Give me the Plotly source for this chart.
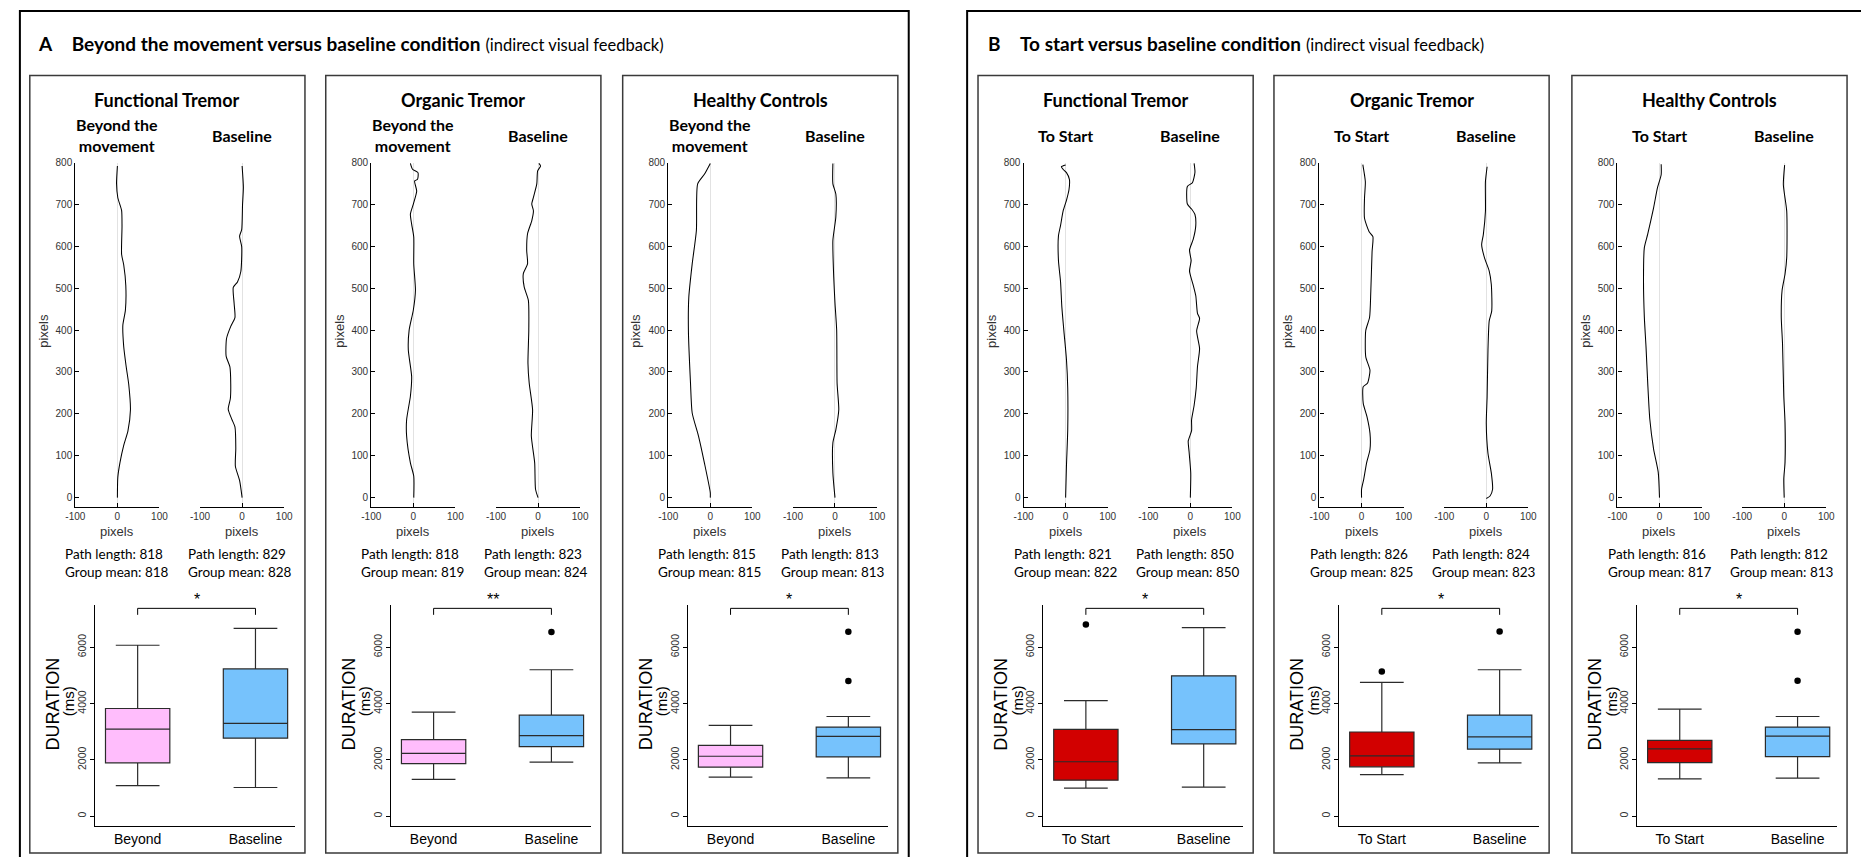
import plotly.graph_objects as go

# ---------------- data ----------------
# Trajectories (x = lateral deviation in pixels, y = vertical position in pixels)
A_FT_BEYOND_X = [0, -2, 1, 10, 11, 10, 15, 20, 19, 13, 15, 21, 27, 31, 25, 15, 6, 1, 0]
A_FT_BEYOND_Y = [792, 750, 716, 686, 648, 581, 556, 506, 447, 412, 361, 312, 270, 209, 159, 125, 83, 49, 0]
A_FT_BASE_X = [0, 3, 1, -1, -6, -1, -3, -11, -21, -19, -17, -27, -37, -38, -29, -27, -28, -33, -24, -17, -15, -16, -6, 0]
A_FT_BASE_Y = [792, 741, 699, 640, 624, 599, 540, 515, 502, 464, 430, 409, 380, 338, 312, 270, 236, 211, 186, 169, 118, 75, 41, 0]

A_OT_BEYOND_X = [-7, -2, 11, 10, 3, 8, 0, -7, -4, 1, 1, 5, 0, -10, -12, -4, -7, -16, -16, -7, 1, 1]
A_OT_BEYOND_Y = [798, 784, 776, 760, 756, 732, 701, 677, 653, 622, 558, 495, 448, 400, 353, 289, 242, 186, 147, 83, 51, 0]
A_OT_BASE_X = [2, 6, -1, -3, -11, -15, -11, -15, -25, -27, -25, -35, -33, -23, -22, -24, -21, -13, -16, -8, -6, 0]
A_OT_BASE_Y = [798, 792, 780, 749, 717, 701, 685, 661, 630, 590, 558, 535, 503, 471, 400, 321, 273, 210, 147, 83, 20, 0]

A_HC_BEYOND_X = [0, -14, -30, -33, -43, -51, -52, -47, -43, -28, -14, 0, 0]
A_HC_BEYOND_Y = [798, 772, 749, 638, 558, 479, 400, 273, 202, 147, 83, 12, 0]
A_HC_BASE_X = [-5, -5, 2, 2, -5, -3, 0, 4, 5, 9, 2, -5, -5, 0]
A_HC_BASE_Y = [798, 749, 725, 670, 614, 527, 464, 400, 273, 210, 162, 131, 59, 0]

B_FT_START_X = [0, -10, -6, 2, 9, 8, 2, -6, -12, -17, -17, -12, -9, -4, 2, 5, 5, 2, 0]
B_FT_START_Y = [794, 790, 784, 776, 760, 735, 710, 684, 650, 625, 566, 515, 456, 397, 330, 262, 160, 76, 0]
B_FT_BASE_X = [9, 11, 5, -7, -7, 3, 11, 13, 7, -2, 2, -2, 7, 13, 17, 22, 15, 22, 17, 14, 9, 3, 3, -5, -3, 1, 0]
B_FT_BASE_Y = [798, 777, 752, 743, 701, 689, 676, 650, 617, 591, 566, 541, 507, 482, 440, 428, 398, 356, 313, 262, 220, 186, 160, 135, 110, 59, 0]

B_OT_START_X = [3, 9, 7, 7, 18, 27, 25, 22, 19, 10, 10, 20, 14, 4, 4, 13, 20, 20, 12, 5, 0, 0]
B_OT_START_Y = [795, 754, 715, 667, 635, 623, 587, 493, 430, 399, 336, 304, 273, 265, 225, 193, 154, 115, 83, 43, 20, 0]
B_OT_BASE_X = [2, -2, -2, -7, -11, -4, 7, 12, 13, 7, 4, 2, 0, 4, 12, 15, 9, 0]
B_OT_BASE_Y = [790, 754, 683, 628, 604, 572, 541, 509, 446, 422, 351, 240, 177, 106, 59, 20, 4, -2]

B_HC_START_X = [4, 4, -5, -14, -28, -36, -38, -36, -32, -28, -23, -14, -3, 0]
B_HC_START_Y = [796, 771, 739, 692, 629, 597, 518, 431, 360, 274, 187, 116, 61, 0]
B_HC_BASE_X = [1, -2, 6, 6, 2, -5, -7, -4, -1, 2, 2, -1, 0]
B_HC_BASE_Y = [794, 747, 684, 573, 534, 495, 431, 368, 242, 179, 84, 45, 0]

# Path length / group mean labels
A_FT_PATHS = [(818, 818), (829, 828)]
A_OT_PATHS = [(818, 819), (823, 824)]
A_HC_PATHS = [(815, 815), (813, 813)]
B_FT_PATHS = [(821, 822), (850, 850)]
B_OT_PATHS = [(826, 825), (824, 823)]
B_HC_PATHS = [(816, 817), (812, 813)]

# Box statistics [lower whisker, Q1, median, Q3, upper whisker] (ms)
A_FT_BOX_BEYOND = [1090, 1895, 3090, 3825, 6070]
A_FT_BOX_BASE = [1020, 2770, 3300, 5230, 6670]
A_OT_BOX_BEYOND = [1306, 1870, 2235, 2718, 3694]
A_OT_BOX_BASE = [1918, 2470, 2859, 3588, 5200]
A_HC_BOX_BEYOND = [1388, 1741, 2129, 2518, 3224]
A_HC_BOX_BASE = [1365, 2106, 2835, 3165, 3541]
B_FT_BOX_START = [997, 1279, 1935, 3085, 4106]
B_FT_BOX_BASE = [1032, 2569, 3073, 4985, 6698]
B_OT_BOX_START = [1475, 1755, 2140, 2990, 4750]
B_OT_BOX_BASE = [1895, 2380, 2815, 3590, 5200]
B_HC_BOX_START = [1329, 1906, 2388, 2694, 3800]
B_HC_BOX_BASE = [1353, 2118, 2847, 3165, 3541]

# Outliers (ms)
A_FT_OUT_BEYOND, A_FT_OUT_BASE = [], []
A_OT_OUT_BEYOND, A_OT_OUT_BASE = [], [6541]
A_HC_OUT_BEYOND, A_HC_OUT_BASE = [], [6553, 4800]
B_FT_OUT_START, B_FT_OUT_BASE = [6804], []
B_OT_OUT_START, B_OT_OUT_BASE = [5140], [6560]
B_HC_OUT_START, B_HC_OUT_BASE = [], [6553, 4812]

SIG_A = ["*", "**", "*"]
SIG_B = ["*", "*", "*"]

TRAJ_TICKS = [0, 100, 200, 300, 400, 500, 600, 700, 800]
X_TICKS = [-100, 0, 100]
DUR_TICKS = [0, 2000, 4000, 6000]
BRACKET = [7150, 7380]

# ---------------- styling ----------------
W, H = 1861, 857
TXT = "Lato"
AX = "Liberation Sans"
PINK = "#FFBDFC"
BLUE = "#76C2FC"
RED = "#D20000"


def PX(x):
    return x / W


def PY(y):
    return 1 - y / H


fig = go.Figure()
axes = {}
shapes = []
annotations = []
count = [0]


def new_axes(xd, yd, xo, yo):
    count[0] += 1
    n = count[0]
    xa = "xaxis" if n == 1 else f"xaxis{n}"
    ya = "yaxis" if n == 1 else f"yaxis{n}"
    xr = "x" if n == 1 else f"x{n}"
    yr = "y" if n == 1 else f"y{n}"
    axes[xa] = dict(domain=xd, anchor=yr, **xo)
    axes[ya] = dict(domain=yd, anchor=xr, **yo)
    return xr, yr


def ann(text, x, y, size, family=TXT, color="black", xanchor="center",
        yanchor="middle", angle=0, align="center", xref="paper", yref="paper"):
    annotations.append(dict(text=text, x=x, y=y, xref=xref, yref=yref,
                            showarrow=False, xanchor=xanchor, yanchor=yanchor,
                            textangle=angle, align=align,
                            font=dict(family=family, size=size, color=color)))


def rect(x0, y0, x1, y1, color, width):
    shapes.append(dict(type="rect", xref="paper", yref="paper",
                       x0=PX(x0), x1=PX(x1), y0=PY(y1), y1=PY(y0),
                       line=dict(color=color, width=width), fillcolor="rgba(0,0,0,0)"))


# outer frames
rect(10, 6, 908, 875, "black", 2)
rect(967, 6, 1875, 875, "black", 2)

NB = "&nbsp;" * 4
ann("<b>A</b>" + NB + "<b>Beyond the movement versus baseline condition</b> "
    "<span style='font-size:16.5px'>(indirect visual feedback)</span>",
    PX(26), PY(39), 19, xanchor="left")
ann("<b>B</b>" + NB + "<b>To start versus baseline condition</b> "
    "<span style='font-size:16.5px'>(indirect visual feedback)</span>",
    PX(986), PY(39), 19, xanchor="left")

panels = [
    dict(PL=20, group="Functional Tremor", conds=("Beyond the<br>movement", "Baseline"),
         cats=["Beyond", "Baseline"], colors=(PINK, BLUE), sig=SIG_A[0], paths=A_FT_PATHS,
         traj=[(A_FT_BEYOND_X, A_FT_BEYOND_Y), (A_FT_BASE_X, A_FT_BASE_Y)],
         boxes=[A_FT_BOX_BEYOND, A_FT_BOX_BASE], outs=[A_FT_OUT_BEYOND, A_FT_OUT_BASE]),
    dict(PL=319, group="Organic Tremor", conds=("Beyond the<br>movement", "Baseline"),
         cats=["Beyond", "Baseline"], colors=(PINK, BLUE), sig=SIG_A[1], paths=A_OT_PATHS,
         traj=[(A_OT_BEYOND_X, A_OT_BEYOND_Y), (A_OT_BASE_X, A_OT_BASE_Y)],
         boxes=[A_OT_BOX_BEYOND, A_OT_BOX_BASE], outs=[A_OT_OUT_BEYOND, A_OT_OUT_BASE]),
    dict(PL=619, group="Healthy Controls", conds=("Beyond the<br>movement", "Baseline"),
         cats=["Beyond", "Baseline"], colors=(PINK, BLUE), sig=SIG_A[2], paths=A_HC_PATHS,
         traj=[(A_HC_BEYOND_X, A_HC_BEYOND_Y), (A_HC_BASE_X, A_HC_BASE_Y)],
         boxes=[A_HC_BOX_BEYOND, A_HC_BOX_BASE], outs=[A_HC_OUT_BEYOND, A_HC_OUT_BASE]),
    dict(PL=978, group="Functional Tremor", conds=("To Start", "Baseline"),
         cats=["To Start", "Baseline"], colors=(RED, BLUE), sig=SIG_B[0], paths=B_FT_PATHS,
         traj=[(B_FT_START_X, B_FT_START_Y), (B_FT_BASE_X, B_FT_BASE_Y)],
         boxes=[B_FT_BOX_START, B_FT_BOX_BASE], outs=[B_FT_OUT_START, B_FT_OUT_BASE]),
    dict(PL=1277, group="Organic Tremor", conds=("To Start", "Baseline"),
         cats=["To Start", "Baseline"], colors=(RED, BLUE), sig=SIG_B[1], paths=B_OT_PATHS,
         traj=[(B_OT_START_X, B_OT_START_Y), (B_OT_BASE_X, B_OT_BASE_Y)],
         boxes=[B_OT_BOX_START, B_OT_BOX_BASE], outs=[B_OT_OUT_START, B_OT_OUT_BASE]),
    dict(PL=1578, group="Healthy Controls", conds=("To Start", "Baseline"),
         cats=["To Start", "Baseline"], colors=(RED, BLUE), sig=SIG_B[2], paths=B_HC_PATHS,
         traj=[(B_HC_START_X, B_HC_START_Y), (B_HC_BASE_X, B_HC_BASE_Y)],
         boxes=[B_HC_BOX_START, B_HC_BOX_BASE], outs=[B_HC_OUT_START, B_HC_OUT_BASE]),
]

T_TOP, T_BOT = 158.5, 505        # trajectory plot vertical extent (px)
T_RANGE = [-22.5, 800]
B_TOP, B_BOT = 603.5, 826        # box plot vertical extent (px)
B_RANGE = [-353, 7500]
B_XRANGE = [-0.361, 1.336]

for p in panels:
    L = p["PL"]
    rect(L, 71, L + 278, 853, "#3a3a3a", 1.5)
    ann("<b>%s</b>" % p["group"], PX(L + 139), PY(96), 18)
    for k, (x0, x1) in enumerate([(L + 46, L + 131), (L + 172, L + 257)]):
        ann("<b>%s</b>" % p["conds"][k], PX((x0 + x1) / 2), PY(131), 16)
        left = k == 0
        xr, yr = new_axes(
            [PX(x0), PX(x1)], [PY(T_BOT), PY(T_TOP)],
            dict(range=[-100, 100], tickvals=X_TICKS, ticktext=["-100", "0", "100"],
                 showgrid=True, gridcolor="#e2e2e2", gridwidth=1, zeroline=False,
                 showline=True, linecolor="black", linewidth=1.2, ticks="inside",
                 ticklen=4, tickcolor="black",
                 tickfont=dict(family=AX, size=10, color="#333")),
            dict(range=T_RANGE, tickvals=TRAJ_TICKS, showgrid=False, zeroline=False,
                 showline=left, linecolor="black", linewidth=1.2,
                 ticks="inside" if left else "", ticklen=4, tickcolor="black",
                 showticklabels=left,
                 tickfont=dict(family=AX, size=10, color="#333")))
        tx, ty = p["traj"][k]
        fig.add_trace(go.Scatter(x=tx, y=ty, mode="lines", xaxis=xr, yaxis=yr,
                                 line=dict(color="black", width=1.05, shape="spline",
                                           smoothing=0.6),
                                 hoverinfo="skip"))
        ann("pixels", PX((x0 + x1) / 2), PY(530), 13, family=AX, color="#333")
        if left:
            ann("pixels", PX(L + 13), PY(328), 13, family=AX, color="#333", angle=-90)
        pl, gm = p["paths"][k]
        tx0 = L + 34 if left else L + 158
        ann("Path length: %d" % pl, PX(tx0), PY(552), 13.5, xanchor="left")
        ann("Group mean: %d" % gm, PX(tx0), PY(570), 13.5, xanchor="left")

    # box plot
    xr, yr = new_axes(
        [PX(L + 66), PX(L + 268)], [PY(B_BOT), PY(B_TOP)],
        dict(range=B_XRANGE, tickvals=[0, 1], ticktext=p["cats"], showgrid=False,
             zeroline=False, showline=True, linecolor="black", linewidth=1.2, ticks="",
             tickfont=dict(family=AX, size=14, color="black")),
        dict(range=B_RANGE, tickvals=DUR_TICKS, showgrid=False, zeroline=False,
             showline=True, linecolor="black", linewidth=1.2, ticks="outside",
             ticklen=4, tickcolor="black", tickangle=-90,
             tickfont=dict(family=AX, size=10.5, color="#333")))
    for k in range(2):
        s = p["boxes"][k]
        fig.add_trace(go.Box(x=[k], lowerfence=[s[0]], q1=[s[1]], median=[s[2]],
                             q3=[s[3]], upperfence=[s[4]], width=0.546, whiskerwidth=0.68,
                             fillcolor=p["colors"][k], line=dict(color="#2b2b2b", width=1.2),
                             boxpoints=False, xaxis=xr, yaxis=yr, hoverinfo="skip"))
        o = p["outs"][k]
        if o:
            fig.add_trace(go.Scatter(x=[k] * len(o), y=o, mode="markers", xaxis=xr,
                                     yaxis=yr, cliponaxis=False,
                                     marker=dict(color="black", size=6.5),
                                     hoverinfo="skip"))
    fig.add_trace(go.Scatter(x=[0, 0, 1, 1], y=[BRACKET[0], BRACKET[1], BRACKET[1], BRACKET[0]],
                             mode="lines", xaxis=xr, yaxis=yr,
                             line=dict(color="black", width=1), hoverinfo="skip"))
    ann(p["sig"], 0.5, PY(598), 16, family=AX, xref=xr)
    ann("DURATION", PX(L + 23), PY(703), 18, family=AX, angle=-90)
    ann("(ms)", PX(L + 40), PY(700), 15, family=AX, angle=-90)

fig.update_layout(width=W, height=H, margin=dict(l=0, r=0, t=0, b=0),
                  paper_bgcolor="white", plot_bgcolor="white", showlegend=False,
                  shapes=shapes, annotations=annotations, **axes)
fig.write_html("out.html", config={"displayModeBar": False},
               post_script="document.body.style.margin='0';document.body.style.overflow='hidden';")
